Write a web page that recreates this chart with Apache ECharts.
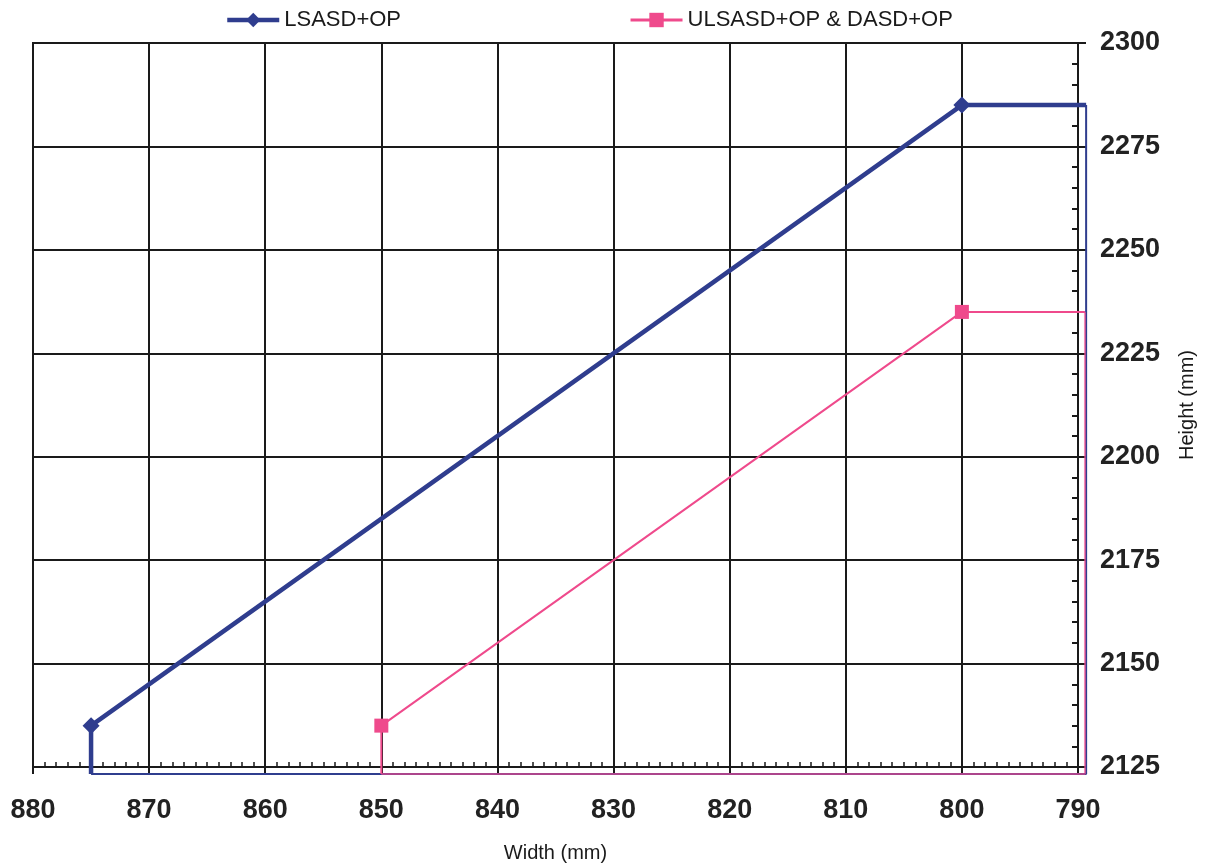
<!DOCTYPE html>
<html>
<head>
<meta charset="utf-8">
<script src="https://cdn.jsdelivr.net/npm/echarts@6/dist/echarts.min.js"></script>
<style>
html,body{margin:0;padding:0;background:#fff;}
#c{width:1205px;height:867px;}
</style>
</head>
<body>
<div id="c"></div>
<script>
// Data
const seriesNames = ['LSASD+OP', 'ULSASD+OP & DASD+OP'];
// LSASD+OP main thick path: [width, height]
const lsasdMain = [[875, 2123.3], [875, 2135], [800, 2285], [789.3, 2285]];
const lsasdMarkers = [[875, 2135], [800, 2285]];
// LSASD+OP thin outline closing the shape
const lsasdOutline = [[789.3, 2285], [789.3, 2123.3], [875, 2123.3]];
// ULSASD+OP & DASD+OP path
const ulsasdMain = [[850, 2123.3], [850, 2135], [800, 2235], [789.4, 2235]];
const ulsasdMarkers = [[850, 2135], [800, 2235]];
const ulsasdOutline = [[789.4, 2235], [789.4, 2123.3], [850, 2123.3]];
// Axis settings
const xMin = 790, xMax = 880, xStep = 10;
const yMin = 2125, yMax = 2300, yStep = 25;
// extended (hidden) ranges so the shapes can run just past the axis frame
const xMinExt = 789.25, yMinExt = 2123;

const BLUE = '#2f3d8e';
const PINK = '#ef4a8c';
const FONT = '"Liberation Sans", Arial, sans-serif';

// frame geometry
const L = 33, T = 43, R = 127, B = 100, W = 1205, H = 867;
const pxPerX = (W - R - L) / (xMax - xMin);
const pxPerY = (H - B - T) / (yMax - yMin);
const R2 = R - (xMin - xMinExt) * pxPerX;
const B2 = B - (yMin - yMinExt) * pxPerY;

const chart = echarts.init(document.getElementById('c'), null, {renderer: 'canvas'});
chart.setOption({
  backgroundColor: '#fff',
  animation: false,
  legend: {
    data: [
      {name: seriesNames[0], lineStyle: {width: 4.5, color: BLUE}, itemStyle: {color: BLUE}},
      {name: seriesNames[1], lineStyle: {width: 3, color: PINK}, itemStyle: {color: PINK}}
    ],
    left: 220,
    top: 4,
    itemWidth: 52,
    itemHeight: 18,
    itemGap: 228,
    textStyle: {fontFamily: FONT, fontSize: 22, color: '#1a1a1a'}
  },
  grid: [
    {left: L, right: R, top: T, bottom: B, outerBoundsMode: 'none', containLabel: false,
     show: true, borderColor: '#1a1a1a', borderWidth: 2, backgroundColor: 'transparent'},
    {left: L, right: R2, top: T, bottom: B2, outerBoundsMode: 'none', containLabel: false, show: false}
  ],
  xAxis: [{
    type: 'value', gridIndex: 0,
    inverse: true,
    min: xMin, max: xMax, interval: xStep,
    name: 'Width (mm)',
    nameLocation: 'middle',
    nameGap: 76,
    nameTextStyle: {fontFamily: FONT, fontSize: 20, color: '#1a1a1a'},
    axisLine: {show: true, onZero: false, lineStyle: {color: '#1a1a1a', width: 2}},
    axisTick: {show: true, inside: false, length: 7, lineStyle: {color: '#1a1a1a', width: 2}},
    minorTick: {show: true, splitNumber: 10, length: -5, lineStyle: {color: '#1a1a1a', width: 1.5}},
    splitLine: {show: true, lineStyle: {color: '#1a1a1a', width: 2}},
    axisLabel: {fontFamily: FONT, fontSize: 27, fontWeight: 'bold', color: '#222', margin: 30,
      formatter: v => String(v)}
  }, {
    type: 'value', gridIndex: 1, show: false,
    inverse: true, min: xMinExt, max: xMax
  }],
  yAxis: [{
    type: 'value', gridIndex: 0,
    position: 'right',
    min: yMin, max: yMax, interval: yStep,
    name: 'Height (mm)',
    nameLocation: 'middle',
    nameRotate: 90,
    nameGap: 99,
    nameTextStyle: {fontFamily: FONT, fontSize: 20, color: '#1a1a1a'},
    axisLine: {show: true, onZero: false, lineStyle: {color: '#1a1a1a', width: 2}},
    axisTick: {show: true, inside: false, length: 8, lineStyle: {color: '#1a1a1a', width: 2}},
    minorTick: {show: true, splitNumber: 5, length: -6, lineStyle: {color: '#1a1a1a', width: 2}},
    splitLine: {show: true, lineStyle: {color: '#1a1a1a', width: 2}},
    axisLabel: {fontFamily: FONT, fontSize: 27, fontWeight: 'bold', color: '#222', margin: 22,
      formatter: v => String(v)}
  }, {
    type: 'value', gridIndex: 1, show: false,
    min: yMinExt, max: yMax
  }],
  series: [
    {
      name: 'LSASD outline', type: 'line', data: lsasdOutline, clip: false,
      xAxisIndex: 1, yAxisIndex: 1,
      showSymbol: false, symbol: 'none', lineStyle: {color: BLUE, width: 2}, z: 3
    },
    {
      name: 'ULSASD outline', type: 'line', data: ulsasdOutline, clip: false,
      xAxisIndex: 1, yAxisIndex: 1,
      showSymbol: false, symbol: 'none', lineStyle: {color: PINK, width: 2, opacity: 0.65}, z: 4
    },
    {
      name: seriesNames[0], type: 'line', data: lsasdMain, clip: false,
      xAxisIndex: 1, yAxisIndex: 1,
      symbol: 'diamond', symbolSize: 16, showSymbol: false,
      color: BLUE, lineStyle: {color: BLUE, width: 4.5}, itemStyle: {color: BLUE}, z: 5
    },
    {
      name: seriesNames[0], type: 'scatter', data: lsasdMarkers, clip: false,
      xAxisIndex: 1, yAxisIndex: 1,
      symbol: 'diamond', symbolSize: 17, itemStyle: {color: BLUE, opacity: 1}, z: 6
    },
    {
      name: seriesNames[1], type: 'line', data: ulsasdMain, clip: false,
      xAxisIndex: 1, yAxisIndex: 1,
      symbol: 'rect', symbolSize: 14, showSymbol: false,
      color: PINK, lineStyle: {color: PINK, width: 2}, itemStyle: {color: PINK}, z: 5
    },
    {
      name: seriesNames[1], type: 'scatter', data: ulsasdMarkers, clip: false,
      xAxisIndex: 1, yAxisIndex: 1,
      symbol: 'rect', symbolSize: 14, itemStyle: {color: PINK, opacity: 1}, z: 6
    }
  ]
});
</script>
</body>
</html>
